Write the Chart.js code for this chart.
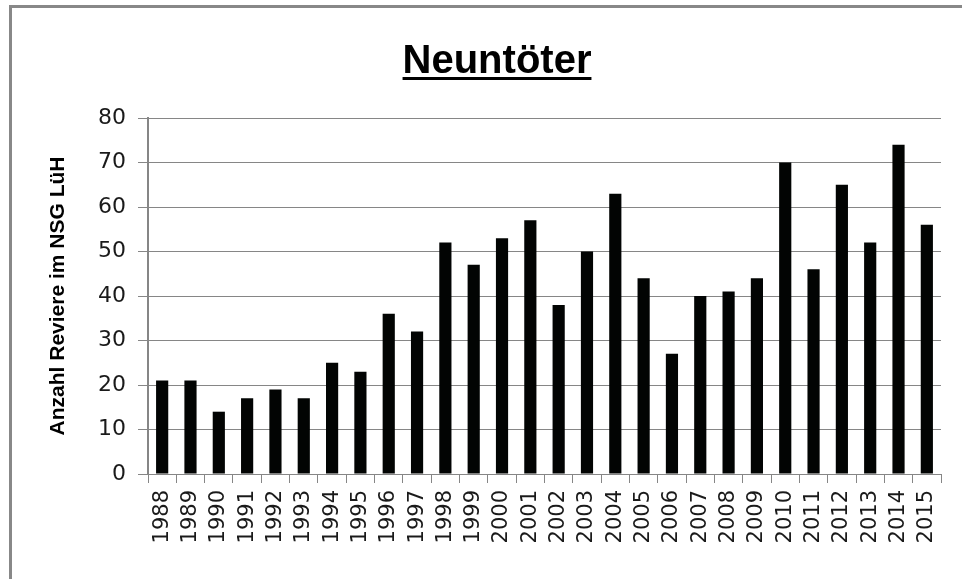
<!DOCTYPE html>
<html>
<head>
<meta charset="utf-8">
<script src="https://cdn.jsdelivr.net/npm/chart.js@4.4.1/dist/chart.umd.min.js"></script>
<style>
  html, body { margin: 0; padding: 0; background: #fff; }
  #wrap { position: relative; width: 962px; height: 579px; }
  #frame {
    position: absolute; left: 9px; top: 5px; right: 0; bottom: 0;
    border-left: 3px solid #888; border-top: 3px solid #888;
    pointer-events: none;
  }
</style>
</head>
<body>
<div id="wrap">
  <canvas id="chart" width="962" height="579"></canvas>
  <div id="frame"></div>
</div>
<script>
// data
const years = ['1988', '1989', '1990', '1991', '1992', '1993', '1994', '1995', '1996', '1997',
  '1998', '1999', '2000', '2001', '2002', '2003', '2004', '2005', '2006', '2007',
  '2008', '2009', '2010', '2011', '2012', '2013', '2014', '2015'];
const territories = [21, 21, 14, 17, 19, 17, 25, 23, 36, 32,
  52, 47, 53, 57, 38, 50, 63, 44, 27, 40,
  41, 44, 70, 46, 65, 52, 74, 56];
const chartTitle = 'Neuntöter';
const yTitle = 'Anzahl Reviere im NSG LüH';

const gridGray = '#868686';

// title with underline, Chart.js title has no underline option
const underlinedTitle = {
  id: 'underlinedTitle',
  afterDraw(chart) {
    const ctx = chart.ctx;
    ctx.save();
    ctx.font = 'bold 40px "Liberation Sans", Arial, sans-serif';
    ctx.fillStyle = '#000';
    ctx.textAlign = 'center';
    ctx.textBaseline = 'alphabetic';
    const cx = 497, base = 73;
    ctx.fillText(chartTitle, cx, base);
    const w = ctx.measureText(chartTitle).width;
    ctx.fillRect(cx - w / 2, base + 4, w, 3);
    ctx.restore();
  }
};

new Chart(document.getElementById('chart'), {
  type: 'bar',
  data: {
    labels: years,
    datasets: [{
      data: territories,
      backgroundColor: '#020403',
      barPercentage: 0.43,
      categoryPercentage: 1
    }]
  },
  options: {
    responsive: false,
    animation: false,
    layout: { padding: { top: 118, left: 42, right: 21, bottom: 0 } },
    plugins: {
      legend: { display: false },
      tooltip: { enabled: false }
    },
    scales: {
      x: {
        offset: true,
        grid: { drawOnChartArea: false, offset: true, tickLength: 9, color: gridGray },
        border: { color: gridGray, width: 1 },
        ticks: {
          autoSkip: false, minRotation: 90, maxRotation: 90,
          padding: 7, color: '#1a1a1a', font: { family: 'DejaVu Sans', size: 21 }
        },
        afterFit(scale) { scale.height = 105; }
      },
      y: {
        min: 0, max: 80,
        ticks: { stepSize: 10, padding: 12, color: '#1a1a1a', font: { family: 'DejaVu Sans', size: 22 } },
        grid: { color: gridGray, lineWidth: 1, tickLength: 10 },
        border: { color: gridGray, width: 2 },
        title: {
          display: true, text: yTitle, color: '#000',
          font: { family: 'Liberation Sans', size: 21, weight: 'bold' },
          padding: { top: 4, bottom: 4 }
        },
        afterFit(scale) { scale.width = 148 - 42; }
      }
    }
  },
  plugins: [underlinedTitle]
});
</script>
</body>
</html>
